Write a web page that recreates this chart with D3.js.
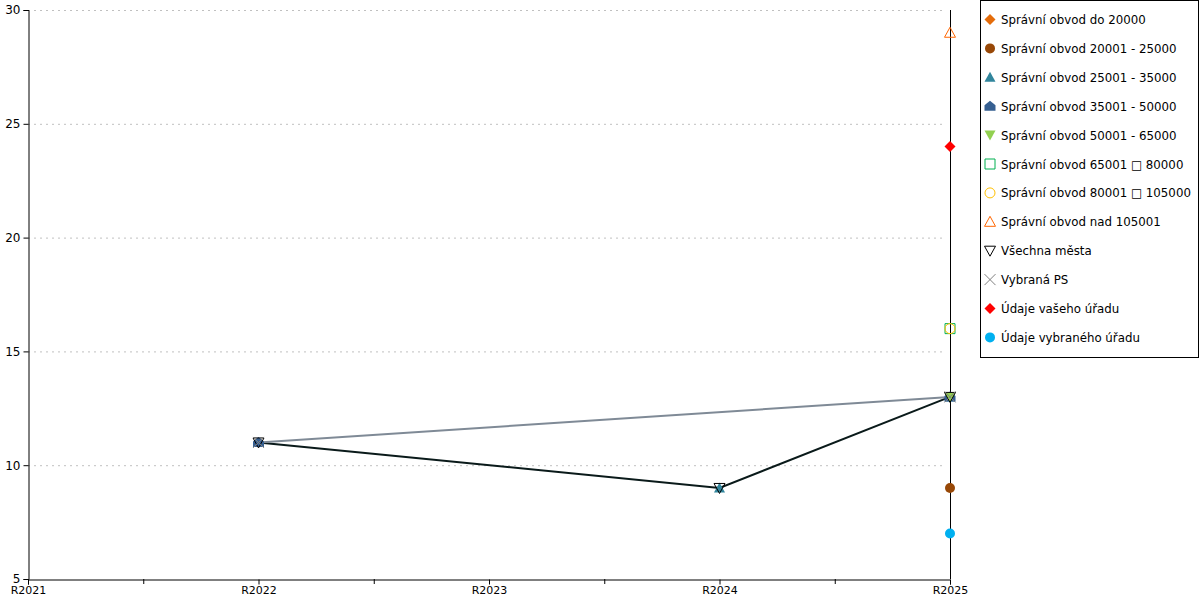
<!DOCTYPE html>
<html><head><meta charset="utf-8">
<script src="https://cdn.jsdelivr.net/npm/d3@7"></script>
<style>body{margin:0;background:#fff}svg{display:block;font-family:"DejaVu Sans",Verdana,sans-serif}</style>
</head><body><svg id="c" width="1200" height="600"></svg>
<script>
const categories = ["R2021","R2022","R2023","R2024","R2025"];
const yTicks = [5,10,15,20,25,30];
const seriesNames = ["Správní obvod do 20000","Správní obvod 20001 - 25000","Správní obvod 25001 - 35000","Správní obvod 35001 - 50000","Správní obvod 50001 - 65000","Správní obvod 65001 □ 80000","Správní obvod 80001 □ 105000","Správní obvod nad 105001","Všechna města","Vybraná PS","Údaje vašeho úřadu","Údaje vybraného úřadu"];
const s_do20000   = [null,null,null,null,null];
const s_20001     = [null,null,null,null,9];
const s_25001     = [null,null,null,9,13];
const s_35001     = [null,11,null,null,13];
const s_50001     = [null,null,null,null,13];
const s_65001     = [null,null,null,null,16];
const s_80001     = [null,null,null,null,16];
const s_nad105001 = [null,null,null,null,29];
const s_vsechna   = [null,11,null,9,13];
const s_vybranaPS = [null,11,null,null,13];
const s_vaseho    = [null,null,null,null,24];
const s_vybraneho = [null,null,null,null,7];
const seriesValues = [s_do20000,s_20001,s_25001,s_35001,s_50001,s_65001,s_80001,s_nad105001,s_vsechna,s_vybranaPS,s_vaseho,s_vybraneho];

const styles = [
 {shape:"diamond", fill:"#E46C0A", stroke:"none"},
 {shape:"circle", fill:"#984807", stroke:"none"},
 {shape:"triangle", fill:"#31859C", stroke:"none"},
 {shape:"house", fill:"#365F91", stroke:"none"},
 {shape:"triDown", fill:"#92D050", stroke:"none"},
 {shape:"square", fill:"none", stroke:"#00B050"},
 {shape:"circle", fill:"none", stroke:"#FFC000"},
 {shape:"triangle", fill:"none", stroke:"#FF6600"},
 {shape:"triDown", fill:"none", stroke:"#000000", line:"#0a1a1a"},
 {shape:"cross", fill:"none", stroke:"#808080", line:"#7f8a96"},
 {shape:"diamond", fill:"#FF0000", stroke:"none"},
 {shape:"circle", fill:"#00B0F0", stroke:"none"}
];

function shapePath(s){
  const r=5.5;
  switch(s){
    case "diamond": return `M0,${-r}L${r},0L0,${r}L${-r},0Z`;
    case "circle": return `M${r-0.5},0A${r-0.5},${r-0.5} 0 1,1 ${-r+0.5},0A${r-0.5},${r-0.5} 0 1,1 ${r-0.5},0Z`;
    case "triangle": return `M0,${-r}L${r},${r-1}L${-r},${r-1}Z`;
    case "triDown": return `M${-r},${-r+1}L${r},${-r+1}L0,${r}Z`;
    case "house": return `M0,${-r}L${r},${-1}L${r},${r-1}L${-r},${r-1}L${-r},${-1}Z`;
    case "square": return `M${-r+0.5},${-r+0.5}H${r-0.5}V${r-0.5}H${-r+0.5}Z`;
    case "cross": return `M${-r},${-r}L${r},${r}M${r},${-r}L${-r},${r}`;
  }
}

const svg = d3.select("#c");
const L=28, R=950, T=10, B=579;
const x = d3.scalePoint().domain(categories).range([L,R]);
const y = d3.scaleLinear().domain([5,30]).range([B,T]);

// gridlines
svg.append("g").selectAll("line").data(yTicks.filter(t=>t>5)).join("line")
  .attr("x1",L).attr("x2",R-4).attr("y1",d=>y(d)+0.5).attr("y2",d=>y(d)+0.5)
  .attr("stroke","#c0c0c0").attr("stroke-dasharray","2,4").attr("stroke-width",1);

// y axis
const ya = svg.append("g").attr("transform",`translate(${L+0.5},0)`)
  .call(d3.axisLeft(y).tickValues(yTicks).tickSize(5).tickPadding(3).tickFormat(d3.format("d")));
ya.selectAll("text").attr("font-size",12).attr("fill","#000").attr("font-family","DejaVu Sans, sans-serif");
ya.select(".domain").attr("stroke","#000");
ya.selectAll(".tick line").attr("stroke","#000");

// x axis
const xa = svg.append("g").attr("transform",`translate(0,${B+0.5})`)
  .call(d3.axisBottom(x).tickSize(5).tickPadding(2));
xa.selectAll("text").attr("font-size",11).attr("fill","#000").attr("font-family","DejaVu Sans, sans-serif");
xa.select(".domain").attr("stroke","#000");
// minor ticks
const step = x.step();
svg.append("g").selectAll("line").data(categories.slice(0,-1)).join("line")
  .attr("x1",d=>x(d)+step/2+0.5).attr("x2",d=>x(d)+step/2+0.5).attr("y1",B).attr("y2",B+5).attr("stroke","#000");
// right vertical line
svg.append("line").attr("x1",R+0.5).attr("x2",R+0.5).attr("y1",T).attr("y2",B).attr("stroke","#000");

// lines
seriesValues.forEach((vals,i)=>{
  const st=styles[i];
  if(!st.line) return;
  const pts = vals.map((v,j)=>({c:categories[j],v})).filter(d=>d.v!=null);
  svg.append("path").datum(pts)
    .attr("d",d3.line().x(d=>x(d.c)).y(d=>y(d.v)))
    .attr("fill","none").attr("stroke",st.line).attr("stroke-width",2);
});

// markers
seriesValues.forEach((vals,i)=>{
  const st=styles[i];
  const pts = vals.map((v,j)=>({c:categories[j],v})).filter(d=>d.v!=null);
  svg.append("g").selectAll("path").data(pts).join("path")
    .attr("transform",d=>`translate(${x(d.c)},${y(d.v)})`)
    .attr("d",shapePath(st.shape))
    .attr("fill",st.fill).attr("stroke",st.stroke==="none"?"none":st.stroke).attr("stroke-width",1);
});

// legend
const lg = svg.append("g");
lg.append("rect").attr("x",980.5).attr("y",0.5).attr("width",218).attr("height",357).attr("fill","#fff").attr("stroke","#000");
const items = lg.selectAll("g").data(seriesNames).join("g")
  .attr("transform",(d,i)=>`translate(990,${19.5+i*28.9})`);
items.append("path").attr("d",(d,i)=>shapePath(styles[i].shape))
  .attr("fill",(d,i)=>styles[i].fill).attr("stroke",(d,i)=>styles[i].stroke);
items.append("text").attr("x",11).attr("y",4.5).attr("font-size",11.8).text(d=>d);
</script></body></html>
